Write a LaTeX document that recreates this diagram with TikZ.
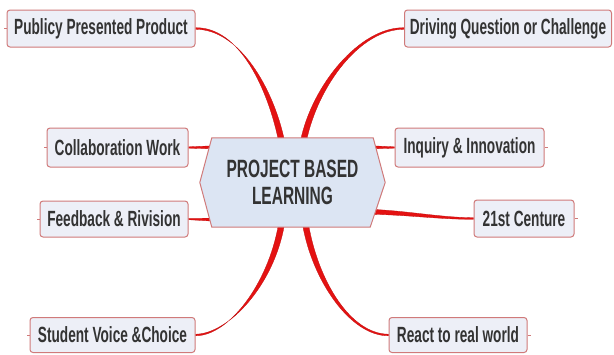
\documentclass[tikz,border=0pt]{standalone}
\usepackage{fontspec}
\setmainfont{Liberation Sans}[FakeStretch=0.62]
\usetikzlibrary{backgrounds,calc}
\definecolor{boxfill}{HTML}{EDEFF7}
\definecolor{boxline}{HTML}{D07A7A}
\definecolor{hexfill}{HTML}{DCE5F3}
\definecolor{conred}{HTML}{E41212}
\definecolor{txt}{HTML}{333333}
\begin{document}
\begin{tikzpicture}[x=1pt,y=-1pt,
  leaf/.style={draw=boxline, fill=boxfill, line width=1pt, rounded corners=3pt,
    minimum height=37pt, inner sep=0pt, font=\bfseries\fontsize{22}{24}\selectfont, text=txt},
  conn/.style={fill=conred, draw=conred!85!black, line width=0.3pt},
  stub/.style={draw=boxline, line width=1pt}]
\useasboundingbox (0,0) rectangle (614,354);

% leaf nodes
\node[leaf, minimum width=188pt] (pub) at (101,28.5) {Publicy Presented Product};
\node[leaf, minimum width=141pt, minimum height=39pt] (col) at (117.5,147.5) {Collaboration Work};
\node[leaf, minimum width=148pt, minimum height=36pt] (fb) at (114,219) {Feedback \& Rivision};
\node[leaf, minimum width=165pt, minimum height=35pt] (stu) at (112.5,335) {Student Voice \&Choice};
\node[leaf, minimum width=207pt] (drv) at (508,28.5) {Driving Question or Challenge};
\node[leaf, minimum width=149pt, minimum height=39pt] (inq) at (469.5,147.5) {Inquiry \& Innovation};
\node[leaf, minimum width=100pt] (cen) at (524,218.5) {21st Centure};
\node[leaf, minimum width=138pt, minimum height=35pt] (rea) at (458,335) {React to real world};

% central node
\node[minimum width=161pt, minimum height=89pt, inner sep=0pt, align=center,
  font=\bfseries\fontsize{25}{27}\selectfont, text=txt] (c) at (292.5,182.5) {PROJECT BASED\\LEARNING};

% small stubs
\draw[stub] (pub.west) -- ++(-3,0);
\draw[stub] (col.west) -- ++(-3,0);
\draw[stub] (fb.west) -- ++(-3,0);
\draw[stub] (stu.west) -- ++(-3,0);
\draw[stub] (inq.east) -- ++(3,0);
\draw[stub] (cen.east) -- ++(3,0);
\draw[stub] (rea.east) -- ++(3,0);

\begin{pgfonlayer}{background}
  \fill[white] (0,0) rectangle (614,354);
  % connectors
  \fill[conn] ($(pub.east)+(0,-0.8)$) .. controls (240,27) and (268,90) .. ($(c.north)+(-14,3)$)
     -- ($(c.north)+(-8,3)$) .. controls (274,90) and (240,29) .. ($(pub.east)+(0,0.8)$) -- cycle;
  \fill[conn] ($(drv.west)+(0,-0.8)$) .. controls (360,27) and (312,85) .. ($(c.north)+(8,3)$)
     -- ($(c.north)+(14,3)$) .. controls (318,86) and (360,29) .. ($(drv.west)+(0,0.8)$) -- cycle;
  \fill[conn] ($(stu.east)+(0,0.8)$) .. controls (228,336) and (268,285) .. ($(c.south)+(-14,-3)$)
     -- ($(c.south)+(-8,-3)$) .. controls (274,286) and (228,334) .. ($(stu.east)+(0,-0.8)$) -- cycle;
  \fill[conn] ($(rea.west)+(0,0.8)$) .. controls (350,336) and (312,280) .. ($(c.south)+(10,-3)$)
     -- ($(c.south)+(16,-3)$) .. controls (318,280) and (350,334) .. ($(rea.west)+(0,-0.8)$) -- cycle;
  \fill[conn] ($(col.east)+(0,-0.7)$) -- ($(c.north west)+(2,8)$) -- ($(c.north west)+(2,11)$)
     -- ($(col.east)+(0,0.7)$) -- cycle;
  \fill[conn] ($(fb.east)+(0,-0.7)$) -- ($(c.south west)+(2,-9)$) -- ($(c.south west)+(2,-6)$)
     -- ($(fb.east)+(0,0.7)$) -- cycle;
  \fill[conn] ($(inq.west)+(0,-0.7)$) -- ($(c.north east)+(-2,8)$) -- ($(c.north east)+(-2,11)$)
     -- ($(inq.west)+(0,0.7)$) -- cycle;
  \fill[conn] ($(c.south east)+(-4,-18)$) .. controls (410,211) and (440,217.5) .. ($(cen.west)+(0,-0.8)$)
     -- ($(cen.west)+(0,0.8)$) .. controls (440,219.5) and (410,215) .. ($(c.south east)+(-4,-13)$) -- cycle;
  % hexagon
  \draw[draw=boxline, fill=hexfill, line width=1pt] (c.north west) -- (c.north east)
     -- ($(c.east)+(12,0)$) -- ($(c.south east)+(-3,0)$) -- (c.south west)
     -- ($(c.west)+(-12,0)$) -- cycle;
\end{pgfonlayer}
\end{tikzpicture}
\end{document}
